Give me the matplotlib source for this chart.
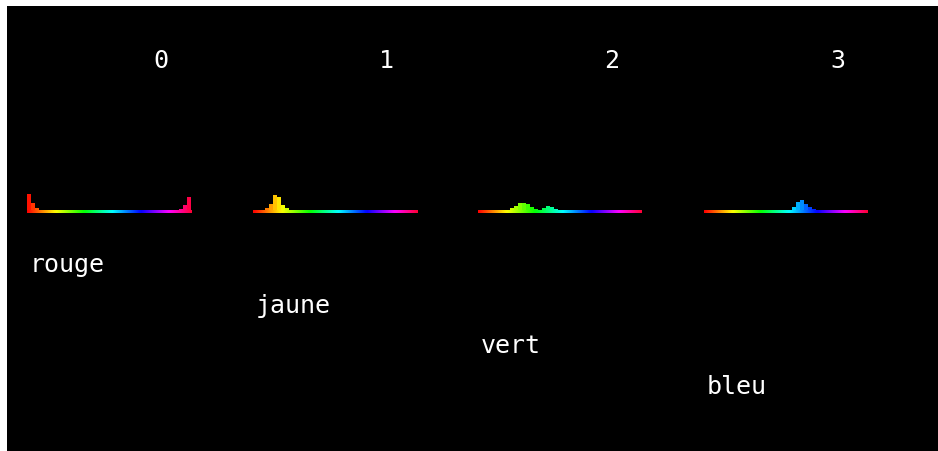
import numpy as np
import matplotlib.pyplot as plt

# panel titles and colour names
panel_ids = ['0', '1', '2', '3']
colour_names = ['rouge', 'jaune', 'vert', 'bleu']

# hue histograms, 41 bins across the hue range (heights in px above baseline)
hist_rouge = [16, 7, 2, 0, 0, 0, 0, 0, 0, 0, 0, 0, 0, 0, 0, 0, 0, 0, 0, 0,
              0, 0, 0, 0, 0, 0, 0, 0, 0, 0, 0, 0, 0, 0, 0, 0, 0, 0, 1, 5, 13]
hist_jaune = [0, 0, 0, 2, 6, 15, 13, 5, 2, 0, 0, 0, 0, 0, 0, 0, 0, 0, 0, 0,
              0, 0, 0, 0, 0, 0, 0, 0, 0, 0, 0, 0, 0, 0, 0, 0, 0, 0, 0, 0, 0]
hist_vert = [0, 0, 0, 0, 0, 0, 0, 0, 2, 4, 7, 7, 6, 3, 1, 0, 2, 4, 3, 1,
             0, 0, 0, 0, 0, 0, 0, 0, 0, 0, 0, 0, 0, 0, 0, 0, 0, 0, 0, 0, 0]
hist_bleu = [0, 0, 0, 0, 0, 0, 0, 0, 0, 0, 0, 0, 0, 0, 0, 0, 0, 0, 0, 0,
             0, 0, 3, 8, 10, 6, 3, 1, 0, 0, 0, 0, 0, 0, 0, 0, 0, 0, 0, 0, 0]
histograms = [hist_rouge, hist_jaune, hist_vert, hist_bleu]

HUE_MAX = 0.98
W, H = 938, 452

fig = plt.figure(figsize=(W / 100, H / 100), dpi=100)
fig.patch.set_facecolor('white')

# black canvas
bg = fig.add_axes([7 / W, 0, (W - 7) / W, (H - 7) / H])
bg.set_facecolor('black')
bg.set_xlim(7, W)
bg.set_ylim(H, 7)
bg.set_xticks([])
bg.set_yticks([])
for s in bg.spines.values():
    s.set_visible(False)

hsv = plt.get_cmap('hsv')
font = dict(family='DejaVu Sans Mono', color='white', fontsize=18)

panel_left0, panel_step, panel_w = 27, 225.5, 164
baseline_y = 212

for k, (pid, name, counts) in enumerate(zip(panel_ids, colour_names, histograms)):
    left = panel_left0 + panel_step * k
    n = len(counts)
    ax = fig.add_axes([left / W, (H - baseline_y - 1.5) / H, panel_w / W, 30 / H])
    ax.set_facecolor('none')
    ax.set_xlim(0, n)
    ax.set_ylim(-1.5, 28.5)
    ax.axis('off')

    # rainbow baseline
    grad = np.linspace(0, HUE_MAX, 400)[None, :]
    ax.imshow(grad, cmap='hsv', vmin=0, vmax=1, aspect='auto',
              extent=(0, n, -1.5, 1.5), interpolation='bilinear')

    # hue histogram
    x = np.arange(n)
    colors = [hsv((i + 0.5) / n * HUE_MAX) for i in x]
    ax.bar(x, counts, width=1.0, bottom=1.5, align='edge', color=colors, linewidth=0)

    # labels
    bg.text(left + 134, 68, pid, ha='center', va='baseline', **font)
    bg.text(left + 3, 272 + 40.7 * k, name, ha='left', va='baseline', **font)

fig.savefig('out.png', dpi=100, facecolor='white')
